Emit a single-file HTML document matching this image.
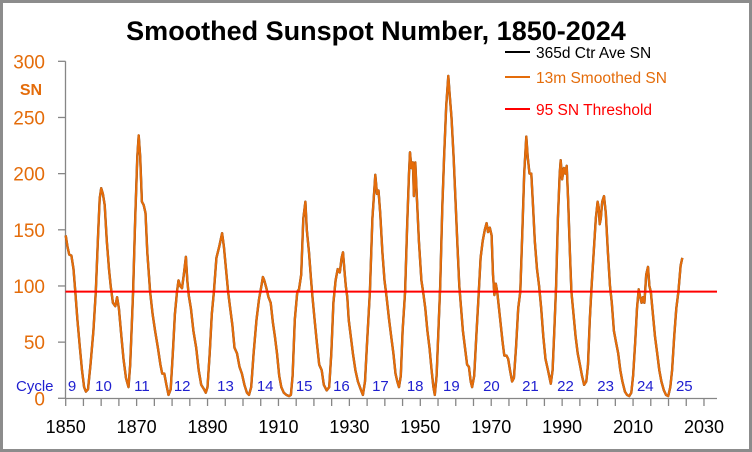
<!DOCTYPE html>
<html><head><meta charset="utf-8"><style>
html,body{margin:0;padding:0;background:#fff}
svg{display:block;font-family:"Liberation Sans",Arial,sans-serif}
</style></head><body>
<svg id="chart" width="752" height="452" viewBox="0 0 752 452">
<rect x="1.5" y="1.5" width="749" height="449" fill="#fff" stroke="#8c8c8c" stroke-width="3"/>
<text x="376" y="40" text-anchor="middle" font-size="27" font-weight="bold" fill="#000">Smoothed Sunspot Number, 1850-2024</text>
<g id="axes"></g>
<g id="series"></g>
<g>
<line x1="505" y1="52" x2="530" y2="52" stroke="#000" stroke-width="2"/>
<text x="536" y="58" font-size="15.5" fill="#000">365d Ctr Ave SN</text>
<line x1="505" y1="77" x2="530" y2="77" stroke="#e46c0a" stroke-width="2"/>
<text x="536" y="83" font-size="15.5" fill="#e46c0a">13m Smoothed SN</text>
<line x1="505" y1="109" x2="530" y2="109" stroke="#f00" stroke-width="2"/>
<text x="536" y="115" font-size="15.5" fill="#f00">95 SN Threshold</text>
</g>
</svg>
<script>
const years=[1850,1850.5,1851,1851.6,1852.2,1852.7,1853.3,1854,1854.6,1855.2,1855.7,1856.3,1857,1857.8,1858.5,1859.2,1859.6,1860,1860.5,1861,1861.6,1862.2,1862.7,1863.3,1864,1864.5,1865,1865.7,1866.3,1867,1867.7,1868.2,1868.7,1869,1869.6,1870.2,1870.6,1871,1871.5,1872,1872.5,1873,1873.8,1874.5,1875.2,1876,1876.7,1877.2,1877.8,1878.4,1879,1879.6,1880.2,1880.8,1881.4,1881.8,1882.3,1882.8,1883.3,1883.9,1884.3,1884.7,1885.3,1886,1886.8,1887.5,1888.2,1889,1889.5,1890,1890.6,1891.2,1891.8,1892.5,1893.3,1894.1,1894.6,1895.2,1895.8,1896.4,1897,1897.6,1898.3,1899,1899.7,1900.4,1901.1,1901.7,1902.3,1903,1903.8,1904.5,1905.2,1905.6,1906,1906.6,1907.2,1907.8,1908.4,1909,1909.6,1910.2,1910.8,1911.5,1912.2,1913,1913.5,1914,1914.6,1915.3,1915.8,1916.4,1917,1917.6,1918,1918.6,1919.2,1919.6,1920.2,1920.8,1921.5,1922.2,1922.8,1923.6,1924.3,1924.9,1925.5,1926.1,1926.7,1927.3,1927.8,1928.2,1928.7,1929,1929.4,1929.8,1930.4,1931,1931.7,1932.4,1933.2,1933.8,1934.4,1935,1935.8,1936.5,1937.3,1937.8,1938.2,1938.7,1939.3,1939.9,1940.5,1941.2,1941.8,1942.4,1943,1943.5,1944,1944.5,1945,1945.7,1946.3,1946.8,1947.1,1947.5,1947.9,1948.2,1948.6,1949,1949.6,1950.3,1950.8,1951.4,1952,1952.6,1953.2,1953.7,1954.1,1954.6,1955.1,1955.6,1956.2,1956.7,1957.3,1957.9,1958.3,1958.8,1959.4,1960,1960.5,1961,1961.5,1962,1962.6,1963.2,1963.7,1964.2,1964.6,1965.2,1965.8,1966.4,1967,1967.6,1968.2,1968.7,1969.1,1969.6,1970.1,1970.5,1970.9,1971.3,1971.7,1972.2,1972.7,1973.2,1973.7,1974.3,1974.8,1975.3,1975.9,1976.4,1977,1977.6,1978.2,1978.8,1979.3,1979.9,1980.3,1980.8,1981.3,1981.8,1982.3,1982.9,1983.5,1984.1,1984.7,1985.3,1986,1986.8,1987.3,1987.8,1988.3,1988.8,1989.3,1989.6,1990,1990.5,1990.9,1991.3,1991.7,1992.2,1992.6,1993.2,1993.8,1994.4,1995,1995.6,1996.2,1996.8,1997.3,1997.8,1998.3,1998.9,1999.5,2000,2000.3,2000.6,2000.9,2001.3,2001.8,2002.3,2002.9,2003.5,2004,2004.6,2005.2,2005.8,2006.4,2007,2007.7,2008.3,2008.9,2009.5,2010,2010.6,2011.1,2011.6,2012,2012.4,2012.8,2013.2,2013.7,2014.2,2014.6,2015,2015.6,2016.2,2016.8,2017.4,2018,2018.7,2019.3,2019.9,2020.5,2021,2021.6,2022.2,2022.8,2023.4,2023.9];
const sn=[145,135,128,127,115,95,70,45,25,10,6,8,30,60,95,150,178,187,182,172,140,115,100,85,82,90,80,55,35,18,10,30,70,95,160,215,234,215,175,172,165,130,95,75,60,45,30,22,22,12,3,8,40,75,95,105,100,98,110,126,105,92,80,60,45,25,12,8,5,10,40,75,95,125,135,147,135,115,95,80,65,45,40,28,22,12,5,3,10,40,70,88,100,108,105,98,90,85,68,55,40,20,10,5,3,2,3,20,70,95,97,110,160,175,150,130,105,90,70,50,30,25,12,7,10,40,85,105,115,112,125,130,110,100,90,70,55,40,25,15,8,3,15,50,95,160,199,182,185,165,130,105,90,70,55,40,22,15,10,20,60,95,155,200,219,205,210,180,210,180,140,105,95,80,60,45,25,10,3,20,60,100,170,215,260,287,270,250,215,170,135,100,80,60,45,30,28,15,10,20,55,90,125,140,150,156,148,152,145,110,92,102,95,80,65,50,38,38,35,25,15,18,45,80,95,150,200,233,215,200,200,170,140,115,100,80,55,35,25,13,25,60,100,160,200,212,195,205,200,207,175,130,95,75,55,40,30,20,12,15,30,70,100,130,160,175,170,155,160,175,180,165,130,100,85,60,50,40,25,15,6,3,2,5,20,50,80,97,90,85,90,85,110,117,100,95,75,55,40,25,15,7,3,2,10,25,55,80,95,118,125];
const cycles=["9","10","11","12","13","14","15","16","17","18","19","20","21","22","23","24","25"];
const cycleYears=[1850.6,1858.3,1869.3,1880.5,1892.7,1903.9,1914.9,1925.4,1936.4,1946.2,1956.4,1967.7,1978.7,1988.6,1999.9,2011.1,2022.1];
const yTicks=[0,50,100,150,200,250,300];
const xTicks=[1850,1870,1890,1910,1930,1950,1970,1990,2010,2030];
const threshold=95;

const NS="http://www.w3.org/2000/svg";
const X=yr=>65.7+(yr-1850)*3.546;
const Y=v=>398.3-v*1.1233;
function mk(tag,attrs,parent,txt){const e=document.createElementNS(NS,tag);for(const k in attrs)e.setAttribute(k,attrs[k]);if(txt!==undefined)e.textContent=txt;parent.appendChild(e);return e;}
const axes=document.getElementById('axes'),series=document.getElementById('series');

let el=mk('line',{x1:65.5,y1:Y(300),x2:65.5,y2:398.5,stroke:'#868686','stroke-width':1.3},axes);


el=mk('line',{x1:65.5,y1:398.5,x2:717,y2:398.5,stroke:'#868686','stroke-width':1.3},axes);


yTicks.forEach(v=>{
  let t=mk('line',{x1:58,x2:65.5,y1:Y(v),y2:Y(v),stroke:'#868686','stroke-width':1.3},axes);
  
  
  let l=mk('text',{x:45,y:Y(v)+7,'text-anchor':'end','font-size':19,fill:'#e46c0a'},axes,String(v));
  
  
});
el=mk('text',{x:31,y:95,'text-anchor':'middle','font-size':16,'font-weight':'bold',fill:'#e46c0a'},axes,'SN');


for(let yr=1850;yr<=2034;yr+=5){
  let t=mk('line',{x1:X(yr),x2:X(yr),y1:398.5,y2:406,stroke:'#868686','stroke-width':1.3},axes);
  
  
}
xTicks.forEach(yr=>{
  let l=mk('text',{x:X(yr),y:433,'text-anchor':'middle','font-size':18,fill:'#000'},axes,String(yr));
  
  
});
el=mk('text',{x:16,y:391,'font-size':15,fill:'#2020d0'},axes,'Cycle');


cycles.forEach((c,i)=>{
  let l=mk('text',{x:X(cycleYears[i]),y:391,'font-size':15,fill:'#2020d0'},axes,c);
  
  
});
const pts=years.map((yr,i)=>X(yr).toFixed(1)+','+Y(sn[i]).toFixed(1)).join(' ');
el=mk('polyline',{points:pts,fill:'none',stroke:'#333','stroke-width':2.4,'stroke-linejoin':'round'},series);


el=mk('polyline',{points:pts,fill:'none',stroke:'#e46c0a','stroke-width':2.2,'stroke-linejoin':'round'},series);


el=mk('line',{x1:65.5,x2:717,y1:Y(threshold),y2:Y(threshold),stroke:'#f00','stroke-width':2},series);


</script>
</body></html>
